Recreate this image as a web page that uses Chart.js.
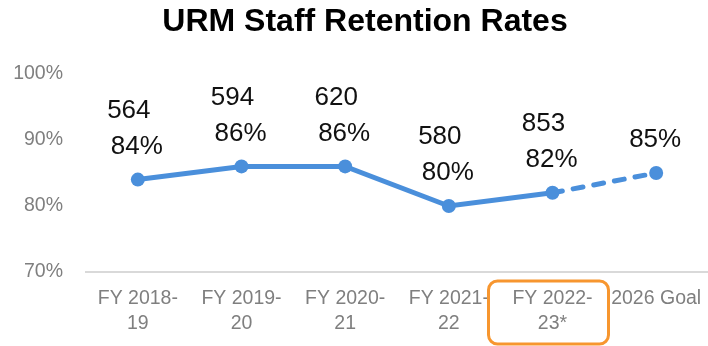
<!DOCTYPE html>
<html>
<head>
<meta charset="utf-8">
<script src="https://cdn.jsdelivr.net/npm/chart.js@4/dist/chart.umd.min.js"></script>
<style>
    html, body { margin: 0; padding: 0; background: #fff; }
    #wrap { width: 708px; height: 346px; position: relative; }
</style>
</head>
<body>
<div id="wrap"><canvas id="retention_plot"></canvas></div>
<script>
'use strict';

// Fiscal years shown along the bottom
const years = [
    ['FY 2018-', '19'],
    ['FY 2019-', '20'],
    ['FY 2020-', '21'],
    ['FY 2021-', '22'],
    ['FY 2022-', '23*'],
    '2026 Goal'
];
// Retention rate (%) per year, last one is the goal
const rates = [84, 86, 86, 80, 82, 85];
// Staff headcount per year (no headcount for the goal)
const headcounts = [564, 594, 620, 580, 853, null];
const yTicks = [70, 80, 90, 100];
const chartTitle = 'URM Staff Retention Rates';

const FONT = '"Liberation Sans", Arial, Helvetica, sans-serif';
const LINE_COLOR = '#4a8fdb';
const HIGHLIGHT_INDEX = 4;

// Title drawn by hand so it can sit a little right of centre
const titleText = {
    id: 'titleText',
    afterDraw: function (chart) {
        const ctx = chart.ctx;
        ctx.save();
        ctx.font = 'bold 32px ' + FONT;
        ctx.fillStyle = '#000';
        ctx.textAlign = 'center';
        ctx.textBaseline = 'middle';
        ctx.fillText(chartTitle, 365, 22);
        ctx.restore();
    }
};

// Two-line value labels above each point
const valueLabels = {
    id: 'valueLabels',
    afterDatasetsDraw: function (chart) {
        const ctx = chart.ctx;
        const meta = chart.getDatasetMeta(0);
        ctx.save();
        ctx.font = '26px ' + FONT;
        ctx.fillStyle = '#111';
        ctx.textAlign = 'center';
        ctx.textBaseline = 'middle';
        meta.data.forEach(function (pt, i) {
            ctx.fillText(rates[i] + '%', pt.x - 1, pt.y - 33);
            if (headcounts[i] !== null) {
                ctx.fillText(String(headcounts[i]), pt.x - 9, pt.y - 69);
            }
        });
        ctx.restore();
    }
};

// Rounded orange frame around the current year's tick label
const highlightTick = {
    id: 'highlightTick',
    afterDraw: function (chart) {
        const ctx = chart.ctx;
        const x = chart.scales.x.getPixelForTick(HIGHLIGHT_INDEX);
        const top = chart.chartArea.bottom + 9;
        ctx.save();
        ctx.strokeStyle = '#f7962f';
        ctx.lineWidth = 3;
        ctx.beginPath();
        ctx.roundRect(x - 64, top, 120, 63, 9);
        ctx.stroke();
        ctx.restore();
    }
};

new Chart(document.getElementById('retention_plot').getContext('2d'), {
    type: 'line',
    data: {
        labels: years,
        datasets: [{
            data: rates,
            borderColor: LINE_COLOR,
            backgroundColor: LINE_COLOR,
            borderWidth: 5,
            pointRadius: 7,
            pointHoverRadius: 7,
            pointBorderWidth: 0,
            tension: 0,
            fill: false,
            segment: {
                borderDash: ctx => ctx.p1DataIndex === rates.length - 1 ? [10, 11] : undefined,
                borderCapStyle: ctx => ctx.p1DataIndex === rates.length - 1 ? 'round' : 'butt'
            }
        }]
    },
    options: {
        responsive: true,
        maintainAspectRatio: false,
        animation: false,
        layout: {
            autoPadding: false,
            padding: { left: 0, right: -3, top: 74, bottom: 0 }
        },
        plugins: {
            legend: { display: false },
            tooltip: { enabled: false },
            title: { display: false }
        },
        scales: {
            x: {
                offset: true,
                grid: { display: false, drawTicks: false },
                border: { display: true, color: '#d9d9d9', width: 2 },
                ticks: {
                    color: '#7f7f7f',
                    padding: 14,
                    maxRotation: 0,
                    autoSkip: false,
                    font: { family: FONT, size: 19.5, lineHeight: 1.28 }
                },
                afterFit: function (scale) {
                    scale.height = 74;
                    scale.paddingLeft = 0;
                    scale.paddingRight = 0;
                }
            },
            y: {
                min: 70,
                max: 100,
                grid: { display: false, drawTicks: false },
                border: { display: false },
                afterBuildTicks: function (scale) {
                    scale.ticks = yTicks.map(v => ({ value: v }));
                },
                ticks: {
                    color: '#7f7f7f',
                    padding: 23,
                    font: { family: FONT, size: 19.5 },
                    callback: v => v + '%'
                },
                afterFit: function (scale) {
                    scale.width = 86;
                    scale.paddingTop = 0;
                    scale.paddingBottom = 0;
                }
            }
        }
    },
    plugins: [titleText, valueLabels, highlightTick]
});
</script>
</body>
</html>
